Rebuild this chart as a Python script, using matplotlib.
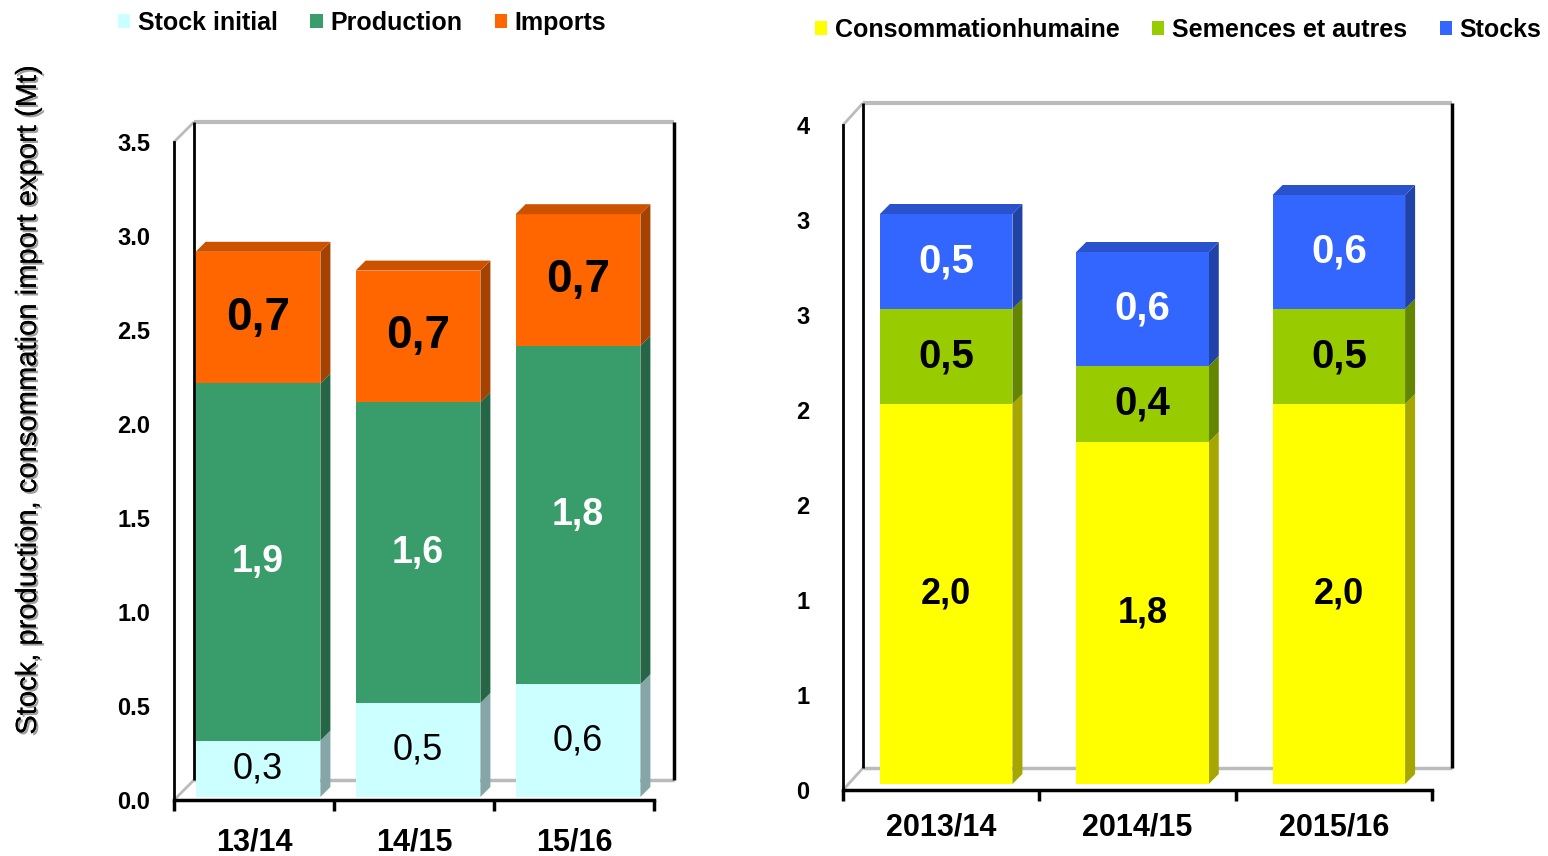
import matplotlib
matplotlib.use("Agg")
import matplotlib.pyplot as plt
from matplotlib.patches import Polygon, Patch
from matplotlib import patheffects
import matplotlib.colors as mcolors

plt.rcParams['font.family'] = ['Liberation Sans', 'DejaVu Sans']

# ------------------- data ------------------- #
left_cats = ['13/14', '14/15', '15/16']
stock_initial = [0.3, 0.5, 0.6]
production = [1.9, 1.6, 1.8]
imports = [0.7, 0.7, 0.7]
left_names = ['Stock initial', 'Production', 'Imports']
left_ticks = [0.0, 0.5, 1.0, 1.5, 2.0, 2.5, 3.0, 3.5]

right_cats = ['2013/14', '2014/15', '2015/16']
conso_humaine = [2.0, 1.8, 2.0]
semences = [0.5, 0.4, 0.5]
stocks = [0.5, 0.6, 0.6]
right_names = ['Consommationhumaine', 'Semences et autres', 'Stocks']
right_ticks = [0.0, 0.5, 1.0, 1.5, 2.0, 2.5, 3.0, 3.5]
right_tick_labels = ['0', '1', '1', '2', '2', '3', '3', '4']

left_colors = ['#CCFFFF', '#389D6A', '#FF6600']
right_colors = ['#FFFF00', '#99CC00', '#3366FF']

W, H = 1548, 856


def shade(color, f):
    r, g, b = mcolors.to_rgb(color)
    return (r * f, g * f, b * f)


# ------------------- one pseudo 3D stacked panel ------------------- #
def draw_panel(ax, cats, series, colors, styles, ticks, tick_labels,
               wall=(20, 20), bar_off=(4, 3), depth=(10, 10), width=0.78,
               ypad=17, xpad=20):
    ymax = ticks[-1]
    ax.set_xlim(-0.5, len(cats) - 0.5)
    ax.set_ylim(0, ymax)
    bb = ax.get_position()
    sx = len(cats) / (bb.width * W)      # data units per pixel
    sy = ymax / (bb.height * H)
    wx, wy = wall[0] * sx, wall[1] * sy
    x0, x1 = -0.5, len(cats) - 0.5

    # back wall + floor (behind the bars)
    grey = '#BBBBBB'
    kw = dict(clip_on=False, solid_capstyle='butt', zorder=0.5)
    ax.plot([x0 + wx, x1 + wx], [ymax + wy, ymax + wy], color=grey, lw=3, **kw)
    ax.plot([x0 + wx, x1 + wx], [wy, wy], color=grey, lw=2.5, **kw)
    ax.plot([x0, x0 + wx], [0, wy], color=grey, lw=2, **kw)
    ax.plot([x0, x0 + wx], [ymax, ymax + wy], color=grey, lw=2, **kw)
    ax.plot([x0 + wx, x0 + wx], [wy, ymax + wy], color='black', lw=2, **kw)
    ax.plot([x1 + wx, x1 + wx], [wy, ymax + wy], color='black', lw=2.5, **kw)

    bx, by = bar_off[0] * sx, bar_off[1] * sy
    dx, dy = depth[0] * sx, depth[1] * sy
    for i in range(len(cats)):
        left = i - width / 2 + bx
        right = i + width / 2 + bx
        base = by
        for k, vals in enumerate(series):
            v = vals[i]
            top = base + v
            c = colors[k]
            ax.add_patch(Polygon([(right, base), (right + dx, base + dy),
                                  (right + dx, top + dy), (right, top)],
                                 closed=True, fc=shade(c, 0.65), ec='none', clip_on=False))
            ax.add_patch(Polygon([(left, base), (right, base), (right, top), (left, top)],
                                 closed=True, fc=c, ec='none', clip_on=False))
            if k == len(series) - 1:
                ax.add_patch(Polygon([(left, top), (right, top), (right + dx, top + dy),
                                      (left + dx, top + dy)],
                                     closed=True, fc=shade(c, 0.8), ec='none', clip_on=False))
            tc, fw, fs = styles[k]
            ax.text((left + right) / 2, base + v / 2, ('%.1f' % v).replace('.', ','),
                    ha='center', va='center', color=tc, fontweight=fw, fontsize=fs,
                    clip_on=False)
            base = top

    # axes
    for s in ['top', 'right']:
        ax.spines[s].set_visible(False)
    ax.spines['left'].set_color('black')
    ax.spines['left'].set_linewidth(2)
    ax.spines['bottom'].set_color('black')
    ax.spines['bottom'].set_linewidth(2.5)
    ax.set_yticks(ticks)
    ax.set_yticklabels(tick_labels, fontsize=17, fontweight='bold')
    ax.tick_params(axis='y', length=0, pad=ypad)
    ax.set_xticks([x0 + j for j in range(len(cats) + 1)])
    ax.set_xticklabels([''] * (len(cats) + 1))
    ax.tick_params(axis='x', which='major', length=8, width=2.5, direction='out')
    ax.set_xticks(range(len(cats)), minor=True)
    ax.set_xticklabels(cats, minor=True, fontsize=22, fontweight='bold')
    ax.tick_params(axis='x', which='minor', length=0, pad=xpad)
    ax.set_facecolor('none')


fig = plt.figure(figsize=(W / 100, H / 100), dpi=100)

# left panel
ax1 = fig.add_axes([174 / W, 1 - 800 / H, 480 / W, 658 / H])
draw_panel(ax1, left_cats, [stock_initial, production, imports], left_colors,
           [('black', 'normal', 26), ('white', 'bold', 27), ('black', 'bold', 33)],
           left_ticks, ['%.1f' % t for t in left_ticks],
           wall=(20, 20), bar_off=(4, 3), depth=(10, 10), width=0.78, ypad=17, xpad=20)

# right panel
ax2 = fig.add_axes([843 / W, 1 - 790 / H, 589 / W, 665 / H])
draw_panel(ax2, right_cats, [conso_humaine, semences, stocks], right_colors,
           [('black', 'bold', 26), ('black', 'bold', 29), ('white', 'bold', 29)],
           right_ticks, right_tick_labels,
           wall=(20, 22), bar_off=(5, 6), depth=(10, 10), width=0.675, ypad=24, xpad=16)

# y label with grey shadow
fig.text(28 / W, 1 - 400 / H, 'Stock, production, consommation import export (Mt)',
         rotation=90, ha='center', va='center', fontsize=21,
         path_effects=[patheffects.withSimplePatchShadow(offset=(1.5, -1.5),
                                                         shadow_rgbFace='#888888', alpha=0.8),
                       patheffects.Normal()])

# legends
h1 = [Patch(fc=c, ec='none') for c in left_colors]
fig.legend(h1, left_names, loc='center', bbox_to_anchor=(362 / W, 1 - 23 / H), ncol=3,
           frameon=False, prop={'weight': 'bold', 'size': 18}, handlelength=0.5,
           handleheight=0.5, handletextpad=0.3, columnspacing=1.3)
h2 = [Patch(fc=c, ec='none') for c in right_colors]
fig.legend(h2, right_names, loc='center', bbox_to_anchor=(1178 / W, 1 - 30 / H), ncol=3,
           frameon=False, prop={'weight': 'bold', 'size': 18}, handlelength=0.5,
           handleheight=0.5, handletextpad=0.3, columnspacing=1.3)

fig.savefig('out.png', dpi=100)
